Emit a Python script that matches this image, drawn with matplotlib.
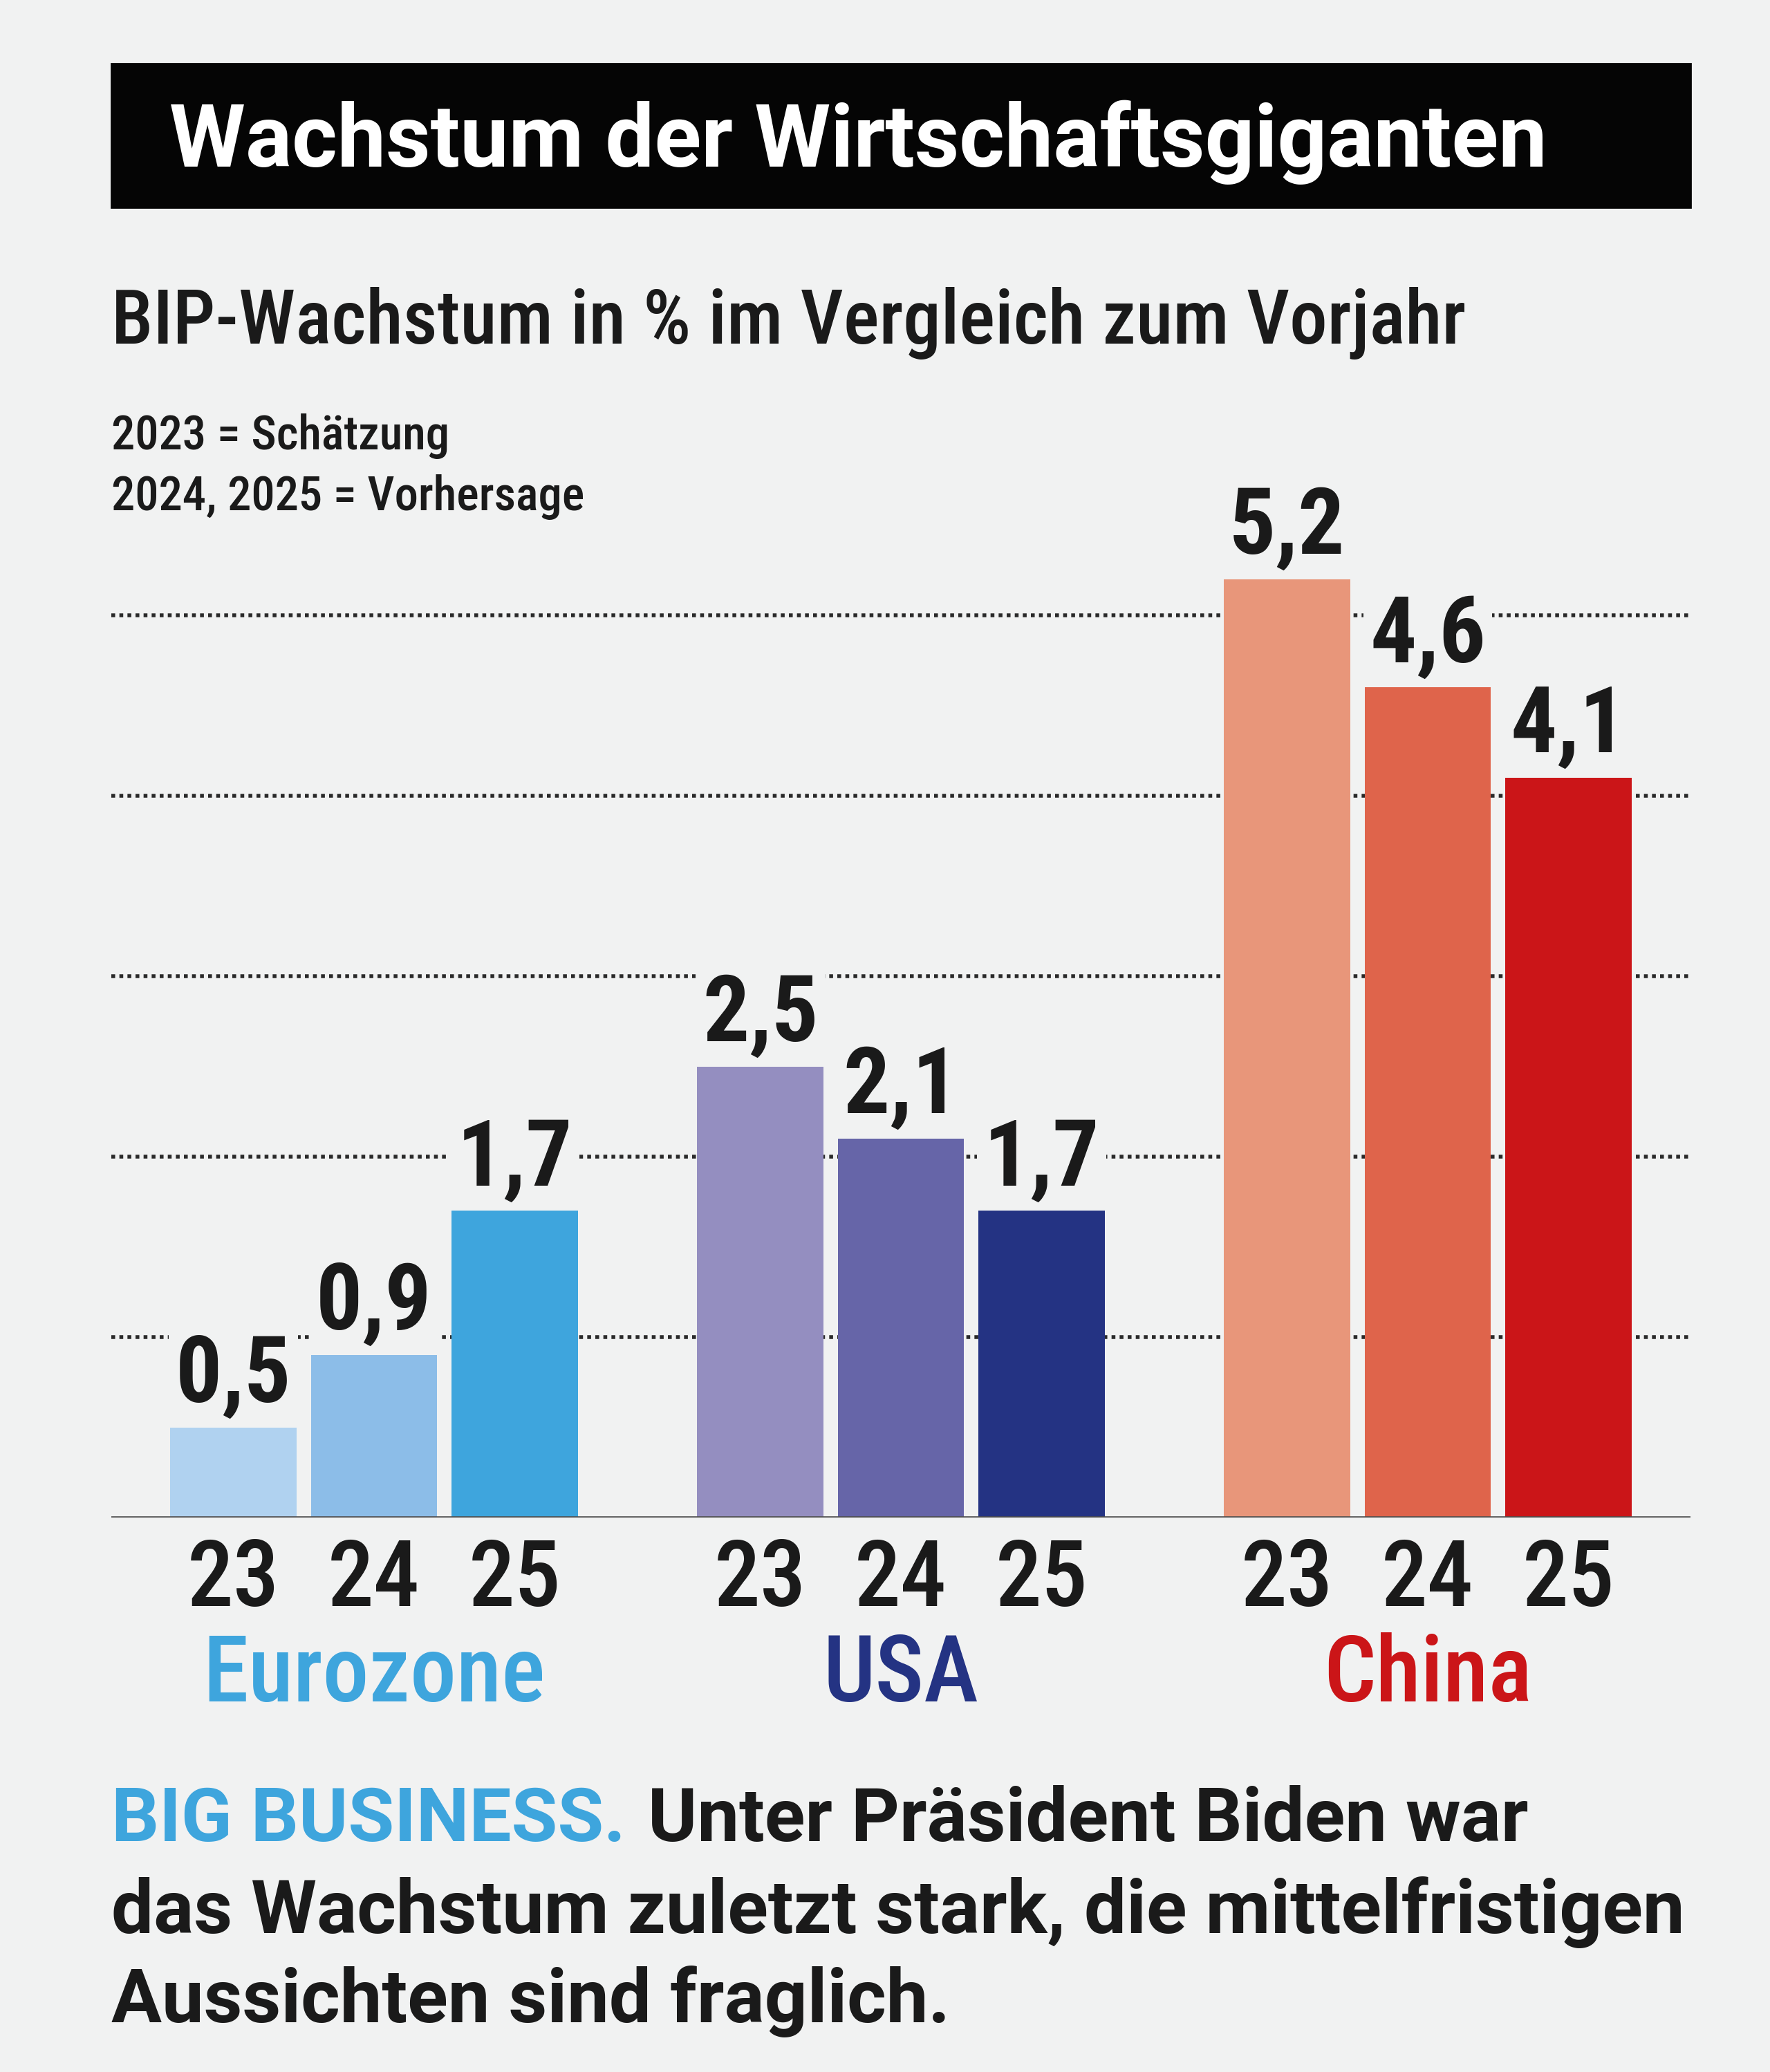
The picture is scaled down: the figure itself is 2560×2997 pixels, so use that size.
import re
import matplotlib
matplotlib.use("Agg")
import matplotlib.pyplot as plt
from matplotlib import font_manager
from matplotlib.font_manager import FontProperties
from matplotlib.patches import Rectangle

# data
groups = ["Eurozone", "USA", "China"]
years = ["23", "24", "25"]
eurozone = [0.5, 0.9, 1.7]
usa = [2.5, 2.1, 1.7]
china = [5.2, 4.6, 4.1]
values = [eurozone, usa, china]

title = "Wachstum der Wirtschaftsgiganten"
subtitle = "BIP-Wachstum in % im Vergleich zum Vorjahr"
notes = ["2023 = Schätzung", "2024, 2025 = Vorhersage"]
lead = "BIG BUSINESS."
para = ["Unter Präsident Biden war",
        "das Wachstum zuletzt stark, die mittelfristigen",
        "Aussichten sind fraglich."]

BG = "#f1f2f2"
bar_colors = [["#b0d2f0", "#8cbde8", "#3ea5dd"],
              ["#948ec0", "#6665a8", "#243383"],
              ["#e8967a", "#df644b", "#cb1518"]]
group_colors = ["#3ea5dd", "#243383", "#cb1518"]

# look for a condensed face on disk, bold and medium/regular
ttf = font_manager.fontManager.ttflist
pref = ["roboto", "liberation", "open", "noto", "dejavu", "lato", "inter"]


def is_cond(f):
    s = (f.fname + " " + f.name).lower()
    return (f.stretch not in ("normal", 500) or re.search("condensed|narrow", s)) \
        and f.style == "normal" and not re.search("mono|serif|italic|oblique", s)


def rank(f):
    s = (f.fname + " " + f.name).lower()
    for i, p in enumerate(pref):
        if p in s:
            return i
    return len(pref)


cands = sorted([f for f in ttf if is_cond(f)], key=rank)
bold_c = [f for f in cands if f.weight in (700, "bold")] or \
         [f for f in cands if f.weight in (600, "semibold", "demibold")]
med_c = [f for f in cands if f.weight in (500, "medium")]
reg_c = [f for f in cands if f.weight in (400, "normal", "regular")]
if bold_c:
    cond_b = FontProperties(fname=bold_c[0].fname)
    mid = (med_c or reg_c or bold_c)[0].fname
    cond_m = FontProperties(fname=mid)
    num_scale = 1.0
else:
    cond_b = FontProperties(family="Liberation Sans", weight="bold")
    cond_m = FontProperties(family="Liberation Sans")
    num_scale = 0.85
head = FontProperties(family="Roboto", weight="bold")

W, H = 2560, 2997
fig = plt.figure(figsize=(W / 200, H / 200), dpi=200, facecolor=BG)
r = fig.canvas.get_renderer()


def fx(x):
    return x / W


def fy(y):
    return 1 - y / H


def fit(t, width):
    w = t.get_window_extent(renderer=r).width
    t.set_fontsize(t.get_fontsize() * width / w)
    return t


def txt(x, y, s, fp, size, color="#1a1a1a"):
    t = fig.text(fx(x), fy(y), s, color=color, va="baseline", fontproperties=fp)
    t.set_fontsize(size)
    return t


# title box
fig.add_artist(Rectangle((fx(161), fy(300)), fx(2445) - fx(161), fy(92) - fy(300),
                         transform=fig.transFigure, color="#050505", zorder=0))
fit(txt(245, 241, title, head, 44, "white"), 1995)

fit(txt(161, 497, subtitle, cond_m, 40), 1960)
n2 = fit(txt(161, 738, notes[1], cond_m, 20), 685)
txt(161, 650, notes[0], cond_m, n2.get_fontsize())

# chart
unit = 261
ax = fig.add_axes([fx(161), fy(2195), fx(2445) - fx(161), fy(760) - fy(2195)])
ax.set_facecolor(BG)
ax.set_xlim(-1.87, 9.37)
ax.set_ylim(0, (2195 - 760) / unit)
for s in ax.spines.values():
    s.set_visible(False)
ax.set_xticks([])
ax.set_yticks([])

for v in [1, 2, 3, 4, 5]:
    ax.axhline(v, color="#2a2a2a", lw=2.0, ls=(0, (1, 1.1)), zorder=1)
ax.axhline(0, color="#4d4d4d", lw=1.3, zorder=4)

nsize = 48 * num_scale
for g, (vals, cols) in enumerate(zip(values, bar_colors)):
    xs = [g * 3.75 + i - 1 for i in range(3)]
    ax.bar(xs, vals, 0.9, color=cols, zorder=3)
    ax.bar(xs, [0.53] * 3, 0.92, bottom=vals, color=BG, zorder=2)
    for x, v, yr in zip(xs, vals, years):
        t = ax.annotate(f"{v:.1f}".replace(".", ","), (x, v), xytext=(0, 13.3),
                        textcoords="offset points", ha="center", va="baseline",
                        color="#1a1a1a", zorder=5, fontproperties=cond_b)
        t.set_fontsize(nsize)
        t = ax.annotate(yr, (x, 0), xytext=(0, -46), textcoords="offset points",
                        ha="center", va="baseline", color="#1a1a1a",
                        annotation_clip=False, fontproperties=cond_m)
        t.set_fontsize(nsize)
    t = ax.annotate(groups[g], (xs[1], 0), xytext=(0, -95.7), textcoords="offset points",
                    ha="center", va="baseline", color=group_colors[g],
                    annotation_clip=False, fontproperties=cond_m)
    t.set_fontsize(nsize)

# closing paragraph
p2 = fit(txt(161, 2796, para[1], head, 34), 2278)
fs = p2.get_fontsize()
t0 = txt(161, 2663, lead, head, fs, "#3ea5dd")
x1 = t0.get_window_extent(renderer=r).x1 + 0.3 * fs * 200 / 72
txt(x1, 2663, para[0], head, fs)
txt(161, 2925, para[2], head, fs)

fig.savefig("out.png", dpi=200, facecolor=BG)
